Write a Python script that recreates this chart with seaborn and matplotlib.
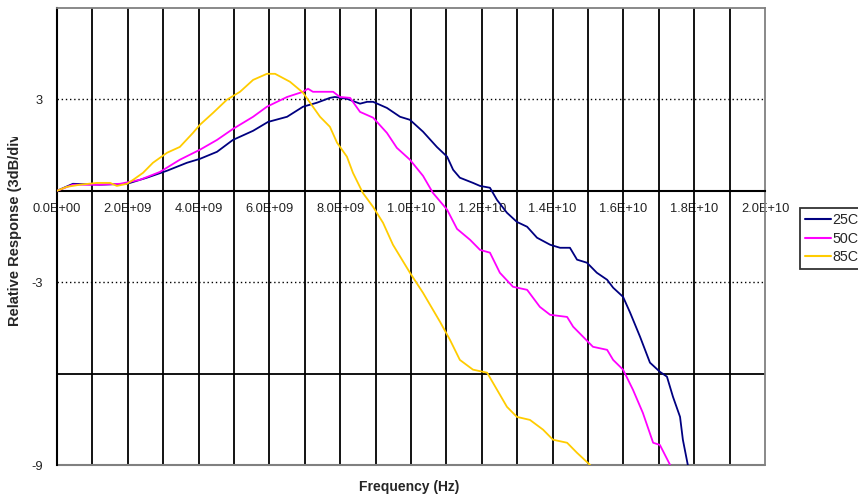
import numpy as np
import pandas as pd
import matplotlib
matplotlib.use('Agg')
import matplotlib.pyplot as plt
import seaborn as sns
from matplotlib.transforms import Bbox

# frequency in GHz, response in dB
freq_25 = [0, 0.45, 1.21, 1.98, 2.54, 3.11, 3.67, 4.04, 4.52, 4.97, 5.54, 5.96, 6.50, 6.95,
           7.34, 7.71, 7.85, 8.19, 8.56, 8.76, 8.93, 9.32, 9.69, 9.97, 10.34, 10.73, 11.02,
           11.19, 11.38, 11.75, 11.95, 12.23, 12.43, 12.71, 12.99, 13.28, 13.56, 13.93, 14.21,
           14.49, 14.69, 14.97, 15.25, 15.54, 15.71, 15.99, 16.19, 16.47, 16.75, 17.03, 17.23,
           17.40, 17.60, 17.68, 17.82]
resp_25 = [0, 0.23, 0.20, 0.23, 0.43, 0.66, 0.92, 1.05, 1.28, 1.67, 1.97, 2.26, 2.43, 2.76,
           2.89, 3.05, 3.08, 3.02, 2.86, 2.92, 2.92, 2.72, 2.43, 2.33, 1.94, 1.44, 1.12,
           0.69, 0.43, 0.26, 0.16, 0.10, -0.30, -0.72, -1.02, -1.18, -1.54, -1.77, -1.87,
           -1.87, -2.26, -2.36, -2.69, -2.92, -3.18, -3.48, -4.00, -4.79, -5.64, -5.94, -6.10,
           -6.76, -7.42, -8.17, -9.0]

freq_50 = [0, 0.45, 1.21, 1.78, 2.34, 2.91, 3.47, 4.04, 4.52, 4.97, 5.54, 5.93, 6.50, 6.95,
           7.09, 7.23, 7.80, 7.99, 8.28, 8.56, 8.93, 9.32, 9.60, 9.97, 10.34, 10.62, 11.02,
           11.30, 11.67, 11.95, 12.23, 12.51, 12.88, 13.28, 13.64, 13.93, 14.41, 14.58, 14.86,
           15.14, 15.54, 15.71, 15.99, 16.27, 16.55, 16.84, 17.03, 17.32]
resp_50 = [0, 0.20, 0.20, 0.23, 0.36, 0.62, 1.02, 1.35, 1.67, 2.03, 2.43, 2.76, 3.08, 3.25,
           3.35, 3.25, 3.25, 3.08, 3.05, 2.59, 2.40, 1.90, 1.41, 1.02, 0.49, -0.07, -0.62,
           -1.25, -1.61, -1.94, -2.03, -2.69, -3.15, -3.25, -3.81, -4.07, -4.14, -4.46, -4.79,
           -5.12, -5.22, -5.55, -5.87, -6.53, -7.29, -8.27, -8.34, -9.0]

freq_85 = [0, 0.28, 0.65, 1.13, 1.50, 1.69, 1.98, 2.15, 2.43, 2.71, 3.11, 3.47, 3.84, 4.04,
           4.41, 4.80, 5.17, 5.54, 5.93, 6.16, 6.58, 6.95, 7.15, 7.43, 7.71, 7.91, 8.19, 8.36,
           8.64, 8.93, 9.21, 9.49, 9.97, 10.34, 10.82, 11.10, 11.38, 11.75, 12.15, 12.43,
           12.71, 12.99, 13.36, 13.73, 14.01, 14.41, 14.69, 15.06]
resp_85 = [0, 0.13, 0.20, 0.26, 0.26, 0.16, 0.23, 0.36, 0.59, 0.92, 1.25, 1.44, 1.90, 2.17,
           2.56, 2.99, 3.25, 3.64, 3.84, 3.84, 3.58, 3.22, 2.89, 2.43, 2.10, 1.58, 1.12, 0.59,
           -0.07, -0.53, -1.05, -1.77, -2.69, -3.35, -4.30, -4.89, -5.55, -5.87, -5.97, -6.53,
           -7.09, -7.42, -7.52, -7.84, -8.17, -8.27, -8.60, -9.0]

series = ['25C', '50C', '85C']
colors = ['#000080', '#FF00FF', '#FFCC00']

frames = []
for name, f, r in zip(series, [freq_25, freq_50, freq_85], [resp_25, resp_50, resp_85]):
    frames.append(pd.DataFrame({'Frequency': np.array(f) * 1e9, 'Response': r, 'Series': name}))
df = pd.concat(frames, ignore_index=True)

sns.set_style('white')
plt.rcParams['font.family'] = ['Liberation Sans', 'DejaVu Sans']

fig = plt.figure(figsize=(8.58, 4.97), dpi=100)
ax = fig.add_axes([57 / 858, 32 / 497, 708 / 858, 457 / 497])

# grid
for xv in np.arange(1e9, 2.0e10, 1e9):
    ax.axvline(xv, color='black', lw=1.3, zorder=1)
ax.axhline(3, color='black', lw=1.0, ls=(0, (1, 2)), zorder=1)
ax.axhline(-3, color='black', lw=1.0, ls=(0, (1, 2)), zorder=1)
ax.axhline(-6, color='black', lw=1.3, zorder=1)

sns.lineplot(data=df, x='Frequency', y='Response', hue='Series', palette=colors,
             sort=False, estimator=None, lw=1.3, ax=ax, zorder=3, legend=False)

ax.set_xlim(0, 2.0e10)
ax.set_ylim(-9, 6)

for s in ['top', 'right']:
    ax.spines[s].set_color('#808080')
    ax.spines[s].set_linewidth(1.3)
ax.spines['left'].set_color('black')
ax.spines['left'].set_linewidth(1.5)
ax.spines['bottom'].set_position(('data', 0))
ax.spines['bottom'].set_color('black')
ax.spines['bottom'].set_linewidth(1.5)
ax.axhline(-9, color='#808080', lw=1.5, zorder=2, clip_on=False)

xt = np.arange(0, 2.01e10, 2e9)
ax.set_xticks(xt)
ax.set_xticklabels([f'{v:.1E}' for v in xt], fontsize=9.3)
ax.set_yticks([6, 3, 0, -3, -6, -9])
ax.set_yticklabels(['', '3', '', '-3', '', '-9'], fontsize=9.3)
ax.tick_params(axis='x', direction='inout', length=5, width=1.3, pad=6, colors='black',
               labelcolor='#222222')
ax.tick_params(axis='y', direction='inout', length=6, width=1.3, pad=7, colors='black',
               labelcolor='#222222')
ax.set_xlabel('')
ax.set_ylabel('')

fig.text(409 / 858, 10 / 497, 'Frequency (Hz)', ha='center', va='center',
         fontsize=10, fontweight='bold')
yl = fig.text(15 / 858, 1 - 326 / 497, 'Relative Response (3dB/div)', rotation=90,
              ha='center', va='bottom', fontsize=10.5, fontweight='bold')
yl.set_clip_box(Bbox.from_extents(0, 0, 40, 497 - 137))
yl.set_clip_on(True)

handles = [plt.Line2D([], [], color=c, lw=1.5) for c in colors]
leg = fig.legend(handles, series, loc='upper left', bbox_to_anchor=(800 / 858, 1 - 208 / 497),
                 fontsize=10.3, frameon=True, fancybox=False, handlelength=1.85,
                 handletextpad=0.05, borderpad=0.35, labelspacing=0.32, borderaxespad=0)
leg.get_frame().set_edgecolor('black')
leg.get_frame().set_linewidth(1.3)

fig.savefig('out.png', dpi=100)
